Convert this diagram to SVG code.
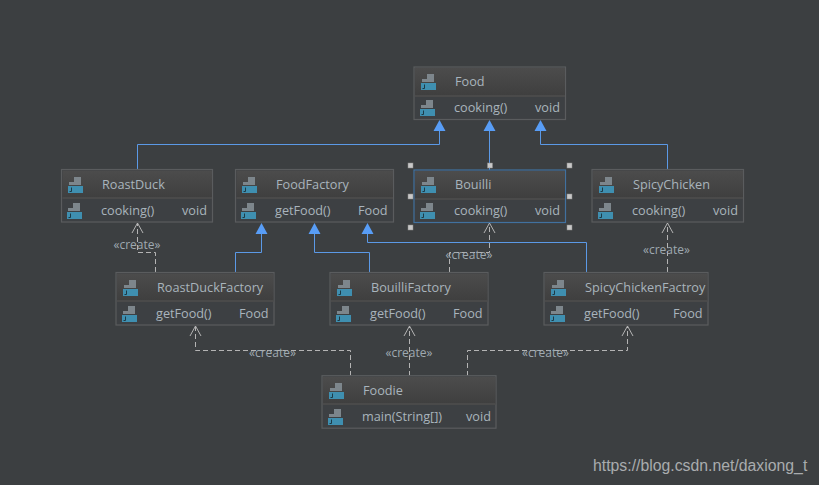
<svg xmlns="http://www.w3.org/2000/svg" width="819" height="485" viewBox="0 0 819 485">
<style>
text{font-family:"Open Sans","Liberation Sans",sans-serif;font-size:12.7px;fill:#a9b4bc}
.wm{font-family:"Liberation Sans",sans-serif;font-size:15.8px;fill:#a9acae}
.st{font-size:12px;fill:#9fa9b0}
.b{fill:none;stroke:#5b99e6;stroke-width:1}
.d{fill:none;stroke:#b4b4b4;stroke-width:1;stroke-dasharray:5 3}
.o{fill:none;stroke:#b4b4b4;stroke-width:1}
.tri{fill:#589df6}
.box{fill:#3d4043;stroke:#5a5c5e;stroke-width:1.2}
.sel{stroke:#41719f}
.div{fill:#4a4a4a}
.h{fill:#c8c8c8;stroke:#8a8a8a;stroke-width:.5}
</style>
<defs>
<linearGradient id="hd" x1="0" y1="0" x2="0" y2="1"><stop offset="0" stop-color="#4c4c4c"/><stop offset="1" stop-color="#3f3f3f"/></linearGradient>
<g id="ic"><path d="M6 0H13V8H1V5H6Z" fill="#7d868c"/><rect x="0" y="9" width="15" height="7" fill="#3f8fb0"/><path d="M3.500 10.500V14.500H1.500" fill="none" stroke="#1d3a46" stroke-width="1"/></g>
</defs>
<rect width="819" height="485" fill="#3c3f41"/>
<g id="connectors">
<path class="b" d="M137.500 170V144.500H439.500V130M489.500 170V130M667.500 170V144.500H540.500V130M235.500 272V252.500H261.500V232M369.500 272V252.500H314.500V232M586.500 272V242.500H367.500V232"/>
<path class="tri" d="M439.500 120L445.500 131H433.500ZM489.500 120L495.500 131H483.500ZM540.500 120L546.500 131H534.500ZM261.500 223L267.500 234H255.500ZM314.500 223L320.500 234H308.500ZM367.500 223L373.500 234H361.500Z"/>
<path class="d" d="M155.500 272V252.500H137.500V223M449.500 272V252.500H489.500V223M667.500 272V223M350.500 376V350.500H195.500V326M409.500 376V326M467.500 376V350.500H627.500V326"/>
<path class="o" d="M132 233L137.500 223L143 233M484 233L489.500 223L495 233M662 233L667.500 223L673 233M190 336L195.500 326L201 336M404 336L409.500 326L415 336M622 336L627.500 326L633 336"/>
<text class="st" x="113.500" y="248.500">«create»</text>
<text class="st" x="445.500" y="259">«create»</text>
<text class="st" x="643" y="254">«create»</text>
<text class="st" x="249" y="357">«create»</text>
<text class="st" x="385.500" y="357">«create»</text>
<text class="st" x="522" y="357">«create»</text>
</g>
<g id="Food"><rect class="box" x="414" y="67" width="151.500" height="52.500"/><rect x="415" y="68" width="150" height="27" fill="url(#hd)"/><rect class="div" x="415" y="95" width="150" height="2"/><use href="#ic" x="421" y="74"/><text x="455" y="86">Food</text><use href="#ic" x="420" y="100"/><text x="454" y="112">cooking()</text><text x="535" y="112">void</text></g>
<g id="RoastDuck"><rect class="box" x="61.500" y="169.500" width="151" height="52.500"/><rect x="62.500" y="170.500" width="149.500" height="27" fill="url(#hd)"/><rect class="div" x="62.500" y="197" width="149.500" height="2"/><use href="#ic" x="68" y="177"/><text x="102" y="189">RoastDuck</text><use href="#ic" x="67" y="203"/><text x="101" y="215">cooking()</text><text x="182" y="215">void</text></g>
<g id="FoodFactory"><rect class="box" x="235.500" y="169.500" width="158" height="52.500"/><rect x="236.500" y="170.500" width="156.500" height="27" fill="url(#hd)"/><rect class="div" x="236.500" y="197" width="156.500" height="2"/><use href="#ic" x="242" y="177"/><text x="276" y="189">FoodFactory</text><use href="#ic" x="241" y="203"/><text x="275" y="215">getFood()</text><text x="358" y="215">Food</text></g>
<g id="Bouilli"><rect class="box sel" x="414" y="170" width="151.500" height="52.500"/><rect x="415" y="171" width="150" height="27" fill="url(#hd)"/><rect class="div" x="415" y="198" width="150" height="2"/><use href="#ic" x="421" y="177"/><text x="455" y="189">Bouilli</text><use href="#ic" x="420" y="203"/><text x="454" y="215">cooking()</text><text x="535" y="215">void</text>
<g class="h"><rect x="408" y="163" width="5" height="5"/><rect x="487.500" y="163" width="5" height="5"/><rect x="567" y="163" width="5" height="5"/><rect x="408" y="194" width="5" height="5"/><rect x="567" y="194" width="5" height="5"/><rect x="408" y="225" width="5" height="5"/><rect x="567" y="225" width="5" height="5"/></g></g>
<g id="SpicyChicken"><rect class="box" x="592" y="169.500" width="151.500" height="52.500"/><rect x="593" y="170.500" width="150" height="27" fill="url(#hd)"/><rect class="div" x="593" y="197" width="150" height="2"/><use href="#ic" x="599" y="177"/><text x="633" y="189">SpicyChicken</text><use href="#ic" x="598" y="203"/><text x="632" y="215">cooking()</text><text x="713" y="215">void</text></g>
<g id="RoastDuckFactory"><rect class="box" x="116" y="272.500" width="158" height="52.500"/><rect x="117" y="273.500" width="156.500" height="27" fill="url(#hd)"/><rect class="div" x="117" y="300" width="156.500" height="2"/><use href="#ic" x="123" y="280"/><text x="157" y="292">RoastDuckFactory</text><use href="#ic" x="122" y="306"/><text x="156" y="318">getFood()</text><text x="239" y="318">Food</text></g>
<g id="BouilliFactory"><rect class="box" x="330" y="272.500" width="158" height="52.500"/><rect x="331" y="273.500" width="156.500" height="27" fill="url(#hd)"/><rect class="div" x="331" y="300" width="156.500" height="2"/><use href="#ic" x="337" y="280"/><text x="371" y="292">BouilliFactory</text><use href="#ic" x="336" y="306"/><text x="370" y="318">getFood()</text><text x="453" y="318">Food</text></g>
<g id="SpicyChickenFactroy"><rect class="box" x="544" y="272.500" width="164" height="52.500"/><rect x="545" y="273.500" width="162.500" height="27" fill="url(#hd)"/><rect class="div" x="545" y="300" width="162.500" height="2"/><use href="#ic" x="551" y="280"/><text x="585" y="292">SpicyChickenFactroy</text><use href="#ic" x="550" y="306"/><text x="584" y="318">getFood()</text><text x="673" y="318">Food</text></g>
<g id="Foodie"><rect class="box" x="322" y="375.700" width="174" height="52.500"/><rect x="323" y="376.700" width="172.500" height="27" fill="url(#hd)"/><rect class="div" x="323" y="403" width="172.500" height="2"/><use href="#ic" x="329" y="383"/><text x="363" y="395">Foodie</text><use href="#ic" x="328" y="409"/><text x="362" y="421">main(String[])</text><text x="466" y="421">void</text></g>
<text class="wm" x="593" y="471">https://blog.csdn.net/daxiong_t</text>
</svg>
